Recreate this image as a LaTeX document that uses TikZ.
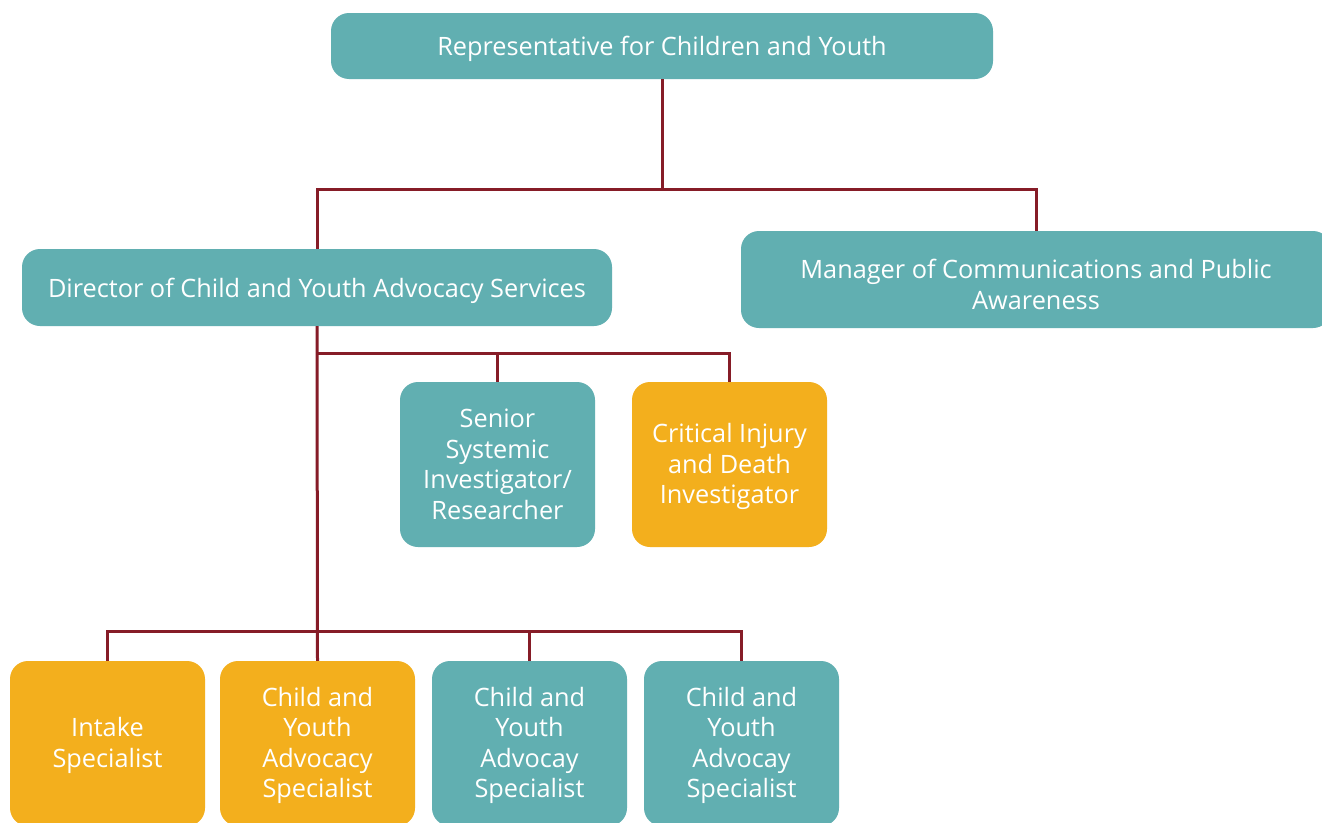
\documentclass[tikz,border=0pt]{standalone}
\usepackage{fontspec}
\setmainfont{Open Sans}
\definecolor{teal}{HTML}{61AFB1}
\definecolor{gold}{HTML}{F3AF1D}
\definecolor{wine}{HTML}{861C27}
\begin{document}
\begin{tikzpicture}[x=1pt,y=-1pt,
  box/.style={rounded corners=18pt, text=white, align=center, inner sep=0pt,
    font=\fontsize{25.3}{30.5}\selectfont},
  tbox/.style={box, fill=teal},
  obox/.style={box, fill=gold},
  conn/.style={draw=wine, line width=3pt}]
\clip (0,0) rectangle (1322,822);
\fill[white] (0,0) rectangle (1322,822);
\node[tbox, minimum width=662pt, minimum height=66pt] (top) at (662,46) {};
\node[text=white, font=\fontsize{25.3}{30.5}\selectfont] at (662,48.5) {Representative for Children and Youth};
\node[tbox, minimum width=590pt, minimum height=77pt] (dir) at (317,287.5) {};
\node[text=white, font=\fontsize{25.3}{30.5}\selectfont] at (317,290.5) {Director of Child and Youth Advocacy Services};
\node[tbox, minimum width=590pt, minimum height=97pt] (mgr) at (1036,279.5) {};
\node[text=white, align=center, font=\fontsize{25.3}{30.5}\selectfont] at (1036,284.5) {Manager of Communications and Public\\Awareness};
\node[tbox, minimum width=195pt, minimum height=165pt] (sen) at (497.5,464.5) {Senior\\Systemic\\Investigator/\\Researcher};
\node[obox, minimum width=195pt, minimum height=165pt] (crit) at (729.5,464.5) {};
\node[text=white, align=center, font=\fontsize{25.3}{30.5}\selectfont] at (729.5,466.5) {Critical Injury\\and Death\\Investigator};
\node[obox, minimum width=195pt, minimum height=165pt] (intk) at (107.5,743.5) {};
\node[text=white, align=center, font=\fontsize{25.3}{30.5}\selectfont] at (107.5,745.5) {Intake\\Specialist};
\node[obox, minimum width=195pt, minimum height=165pt] (c1) at (317.5,743.5) {};
\node[text=white, align=center, font=\fontsize{25.3}{30.5}\selectfont] at (317.5,745.5) {Child and\\Youth\\Advocacy\\Specialist};
\node[tbox, minimum width=195pt, minimum height=165pt] (c2) at (529.5,743.5) {};
\node[text=white, align=center, font=\fontsize{25.3}{30.5}\selectfont] at (529.5,745.5) {Child and\\Youth\\Advocay\\Specialist};
\node[tbox, minimum width=195pt, minimum height=165pt] (c3) at (741.5,743.5) {};
\node[text=white, align=center, font=\fontsize{25.3}{30.5}\selectfont] at (741.5,745.5) {Child and\\Youth\\Advocay\\Specialist};
\coordinate (h1) at (0,189);
\coordinate (h2) at (0,353);
\coordinate (h3) at (0,631);
\draw[conn] (top.south) -- (top.south |- h1);
\draw[conn] (dir.north) -- (dir.north |- h1) -| (mgr.north);
\draw[conn] (dir.south) -- (c1.north);
\draw[conn] (dir.south |- h2) -| (crit.north);
\draw[conn] (sen.north |- h2) -- (sen.north);
\draw[conn] (intk.north) -- (intk.north |- h3) -| (c3.north);
\draw[conn] (c2.north |- h3) -- (c2.north);
\end{tikzpicture}
\end{document}
